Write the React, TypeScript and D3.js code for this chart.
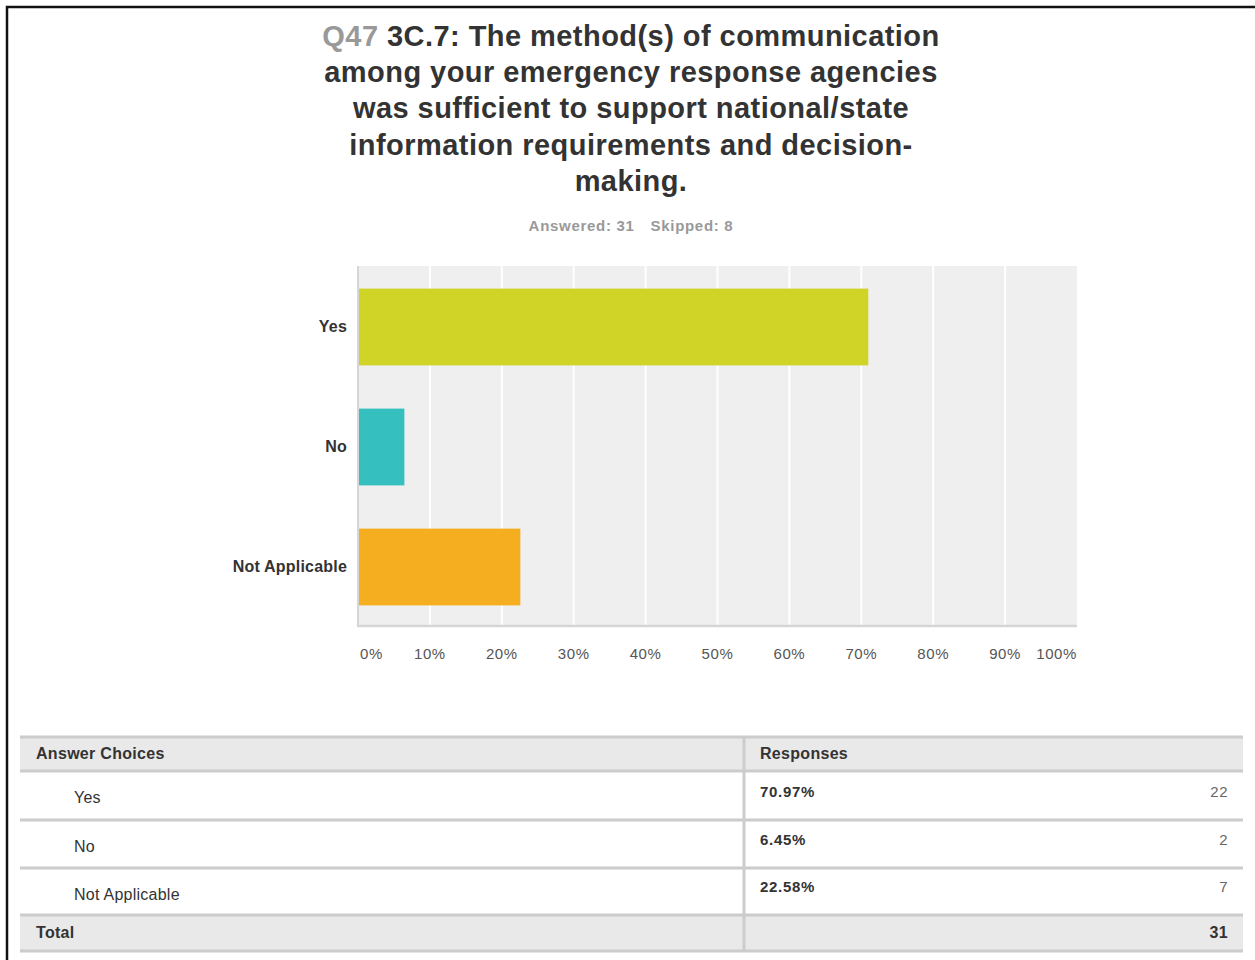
import React from "react";
import * as d3 from "d3";

const categories = ["Yes", "No", "Not Applicable"];
const percents = [70.97, 6.45, 22.58];
const counts = [22, 2, 7];
const percentLabels = ["70.97%", "6.45%", "22.58%"];
const barColors = ["#cfd427", "#36bfbf", "#f5ae1f"];
const xTicks = [0, 10, 20, 30, 40, 50, 60, 70, 80, 90, 100];
const totalCount = 31;
const answered = 31;
const skipped = 8;
const titleLines = [
  "3C.7: The method(s) of communication",
  "among your emergency response agencies",
  "was sufficient to support national/state",
  "information requirements and decision-",
  "making.",
];

const FONT = "'Liberation Sans', Arial, Helvetica, sans-serif";

export default function App() {
  const W = 1255;
  const H = 960;
  const plot = { left: 358, right: 1077, top: 266, bottom: 626 };
  const x = d3.scaleLinear().domain([0, 100]).range([plot.left, plot.right]);
  const y = d3
    .scaleBand<string>()
    .domain(categories)
    .range([plot.top + 1, plot.bottom + 1])
    .paddingInner(0.36)
    .paddingOuter(0.18);

  const tbl = { left: 20, right: 1243, div: 744 };
  const rowLines = [737, 771, 820, 868, 915, 951];
  const titleCx = 631;

  return (
    <svg
      width={W}
      height={H}
      style={{ position: "absolute", left: 0, top: 0, background: "#fff" }}
      fontFamily={FONT}
    >
      {/* outer frame */}
      <path d={`M7,${H + 5} V7 H${W + 5}`} fill="none" stroke="#111" strokeWidth={2.5} />

      {/* title */}
      {titleLines.map((t, i) => (
        <text
          key={i}
          x={titleCx}
          y={46 + i * 36.2}
          textAnchor="middle"
          fontSize={29}
          letterSpacing={0.45}
          fontWeight="bold"
          fill="#333"
        >
          {i === 0 && <tspan fill="#999">Q47 </tspan>}
          {t}
        </text>
      ))}
      <text x={titleCx} y={231} textAnchor="middle" fontSize={15} letterSpacing={0.7} fontWeight="bold" fill="#999">
        {`Answered: ${answered}`}
        <tspan dx={16}>{`Skipped: ${skipped}`}</tspan>
      </text>

      {/* plot background */}
      <rect
        x={plot.left}
        y={plot.top}
        width={plot.right - plot.left}
        height={plot.bottom - plot.top}
        fill="#efefef"
      />
      {xTicks.slice(1, -1).map((t) => (
        <line
          key={t}
          x1={x(t)}
          x2={x(t)}
          y1={plot.top}
          y2={plot.bottom}
          stroke="#fff"
          strokeWidth={2}
        />
      ))}
      {/* axes lines */}
      <line x1={plot.left} x2={plot.left} y1={plot.top} y2={plot.bottom + 1} stroke="#d6d6d6" strokeWidth={2} />
      <line x1={plot.left - 1} x2={plot.right} y1={plot.bottom} y2={plot.bottom} stroke="#d6d6d6" strokeWidth={2.5} />

      {/* bars */}
      {categories.map((c, i) => (
        <rect
          key={c}
          x={x(0) + 1}
          y={y(c)!}
          width={x(percents[i]) - x(0) - 1}
          height={y.bandwidth()}
          fill={barColors[i]}
        />
      ))}
      {categories.map((c) => (
        <text
          key={c}
          x={347}
          y={y(c)! + y.bandwidth() / 2 + 5}
          textAnchor="end"
          fontSize={16}
          letterSpacing={0.2}
          fontWeight="bold"
          fill="#333"
        >
          {c}
        </text>
      ))}
      {xTicks.map((t, i) => (
        <text
          key={t}
          x={i === 0 ? x(t) + 2 : x(t)}
          y={659}
          textAnchor={i === 0 ? "start" : i === xTicks.length - 1 ? "end" : "middle"}
          fontSize={15}
          letterSpacing={0.6}
          fill="#555"
        >
          {`${t}%`}
        </text>
      ))}

      {/* table */}
      <rect x={tbl.left} y={rowLines[0]} width={tbl.right - tbl.left} height={rowLines[1] - rowLines[0]} fill="#e9e9e9" />
      <rect x={tbl.left} y={rowLines[4]} width={tbl.right - tbl.left} height={rowLines[5] - rowLines[4]} fill="#e9e9e9" />
      {rowLines.map((ly, i) => (
        <line key={i} x1={tbl.left} x2={tbl.right} y1={ly} y2={ly} stroke="#cccccc" strokeWidth={3} />
      ))}
      <line x1={tbl.div} x2={tbl.div} y1={rowLines[0]} y2={rowLines[5]} stroke="#cccccc" strokeWidth={3} />

      <text x={36} y={759} fontSize={16} letterSpacing={0.3} fontWeight="bold" fill="#333">Answer Choices</text>
      <text x={760} y={759} fontSize={16} letterSpacing={0.3} fontWeight="bold" fill="#333">Responses</text>
      {categories.map((c, i) => (
        <g key={c}>
          <text x={74} y={803 + i * 48.5} fontSize={16} letterSpacing={0.25} fill="#333">{c}</text>
          <text x={760} y={797 + i * 47.5} fontSize={15} letterSpacing={0.7} fontWeight="bold" fill="#333">{percentLabels[i]}</text>
          <text x={1228} y={797 + i * 47.5} fontSize={15} letterSpacing={0.5} textAnchor="end" fill="#666">{counts[i]}</text>
        </g>
      ))}
      <text x={36} y={938} fontSize={16} letterSpacing={0.3} fontWeight="bold" fill="#333">Total</text>
      <text x={1228} y={938} fontSize={16} letterSpacing={0.3} fontWeight="bold" textAnchor="end" fill="#333">{totalCount}</text>
    </svg>
  );
}
